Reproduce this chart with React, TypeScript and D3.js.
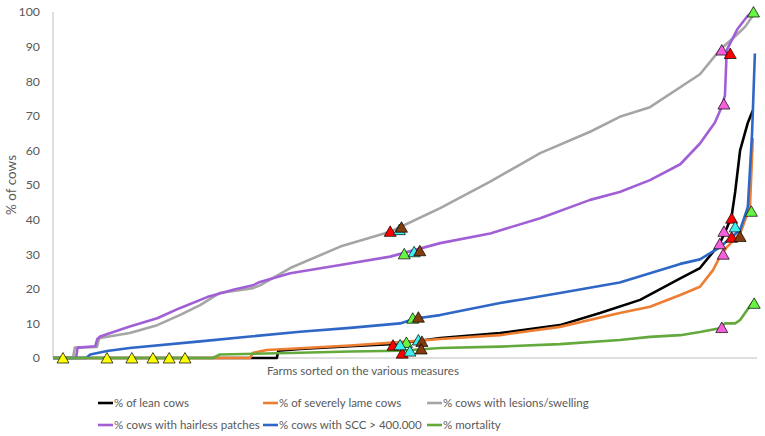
import * as d3 from "d3";

type Pt = [number, number]; // [farm rank in % of farms, % of cows]

// sorted curves
const leanCows: Pt[] = [
  [0, 0], [31.8, 0], [32.0, 2.1], [35.1, 2.6], [42.2, 3.4], [47.9, 4.0], [52.1, 5.0],
  [55.0, 5.8], [63.5, 7.2], [72.0, 9.5], [77.7, 13], [83.4, 16.8], [89.1, 23],
  [91.9, 26], [94.7, 33], [95.7, 37.5], [96.4, 41], [96.9, 48], [97.6, 60],
  [98.7, 68], [99.4, 71.5],
];
const lameCows: Pt[] = [
  [0, 0], [28.0, 0], [28.4, 1.5], [30.4, 2.3], [35.1, 2.8], [42.2, 3.6], [49.3, 4.6],
  [55.0, 5.5], [63.5, 6.6], [72.0, 9.0], [80.5, 13], [84.8, 14.8], [89.1, 18.2],
  [91.9, 20.6], [93.75, 25.4], [94.7, 29.2], [95.7, 32], [97.6, 36], [99.0, 43.7],
  [99.4, 63.5],
];
const lesionCows: Pt[] = [
  [0, 0], [2.84, 0], [3.1, 3], [6.25, 3.2], [6.5, 5.3], [6.7, 5.8], [10.9, 7.2],
  [14.8, 9.5], [18.0, 12.4], [20.9, 15.3], [23.7, 18.8], [28.4, 20.2], [29.4, 21],
  [33.7, 26], [40.8, 32.2], [47.9, 36.5], [55.0, 43.3], [62.1, 51], [69.2, 59.2],
  [76.3, 65.4], [80.5, 69.7], [84.8, 72.5], [91.9, 82], [94.7, 89], [96.9, 93],
  [98.3, 95.7], [99.3, 98.6], [99.7, 100],
];
const hairlessCows: Pt[] = [
  [0, 0], [3.27, 0], [3.5, 3], [6.0, 3.4], [6.3, 5.5], [6.7, 6.2], [10.9, 9.1],
  [14.8, 11.5], [18.0, 14.4], [21.9, 17.6], [25.6, 19.7], [28.4, 21], [29.4, 22],
  [33.7, 24.5], [40.8, 26.9], [47.9, 29.3], [55.0, 33.2], [62.1, 36], [69.2, 40.4],
  [76.3, 45.7], [80.5, 48], [84.8, 51.4], [89.1, 56], [91.9, 62], [94.0, 68],
  [95.0, 72.6], [95.45, 76], [95.7, 89], [97.2, 95], [98.6, 98.7], [99.3, 100],
];
const sccCows: Pt[] = [
  [0, 0], [4.69, 0], [5.3, 1], [7.67, 2], [10.9, 2.9], [20.9, 4.8], [28.0, 6.2],
  [35.1, 7.6], [42.2, 8.7], [49.3, 10], [51.5, 11.4], [55.0, 12.4], [56.4, 13],
  [63.5, 15.9], [66.8, 17], [72.0, 18.8], [80.5, 21.8], [89.1, 27.2], [91.9, 28.5],
  [94.7, 32], [97.6, 37], [98.7, 43.7], [99.3, 65], [99.7, 88],
];
const mortality: Pt[] = [
  [0, 0], [22.7, 0], [23.7, 1.0], [35.1, 1.5], [42.2, 1.9], [49.3, 2.1], [55.0, 2.9],
  [63.5, 3.3], [72.0, 4.0], [80.5, 5.2], [84.8, 6.1], [89.1, 6.6], [91.9, 7.5],
  [94.7, 8.6], [95.45, 10], [96.9, 10], [97.6, 11], [98.3, 13], [99.3, 15.9],
];

const seriesNames = [
  "% of lean cows",
  "% of severely lame cows",
  "% cows with lesions/swelling",
  "% cows with hairless patches",
  "% cows with SCC > 400.000",
  "% mortality",
];
const seriesData = [leanCows, lameCows, lesionCows, hairlessCows, sccCows, mortality];
const seriesColors = ["#000000", "#ed7d31", "#a5a5a5", "#a15fd6", "#2f67c6", "#63a93c"];

// highlighted farms (triangles), grouped by marker colour
const yellowFarms: Pt[] = [[1.42, 0], [7.67, 0], [11.2, 0], [14.2, 0], [16.5, 0], [18.75, 0]];
const pinkFarms: Pt[] = [[95.0, 89], [95.3, 73.4], [95.3, 36.6], [94.7, 33], [95.2, 30], [95.0, 8.8]];
const greenFarms: Pt[] = [[49.9, 30.1], [51.1, 11.5], [50.2, 4.5], [99.5, 100], [99.2, 42.4], [99.6, 15.8]];
const redFarms: Pt[] = [[47.9, 36.6], [48.3, 3.7], [49.6, 1.4], [96.2, 88], [96.4, 40.4], [96.4, 34.9]];
const cyanFarms: Pt[] = [[49.2, 37.1], [51.3, 30.7], [49.3, 3.8], [51.9, 5.2], [50.7, 2.0], [96.9, 37.9]];
const brownFarms: Pt[] = [[49.5, 37.8], [52.1, 31], [51.9, 11.8], [52.4, 4.8], [52.3, 2.6], [97.6, 35.1]];

const markerGroups = [yellowFarms, pinkFarms, greenFarms, redFarms, cyanFarms, brownFarms];
const markerColors = ["#ffff00", "#f55fdc", "#66f542", "#ff0000", "#3ff0f0", "#843c0c"];

const yTicks = [0, 10, 20, 30, 40, 50, 60, 70, 80, 90, 100];

const W = 765;
const H = 436;
const plot = { left: 53, right: 757, top: 12, bottom: 358 };
const font = "Lato, 'Open Sans', sans-serif";
const textColor = "#595959";

function trianglePath(): string {
  const p = d3.path();
  p.moveTo(0, -5.5);
  p.lineTo(6, 5);
  p.lineTo(-6, 5);
  p.closePath();
  return p.toString();
}

export default function App() {
  const x = d3.scaleLinear().domain([0, 100]).range([plot.left, plot.right]);
  const y = d3.scaleLinear().domain([0, 100]).range([plot.bottom, plot.top]);
  const line = d3
    .line<Pt>()
    .x((d) => x(d[0]))
    .y((d) => y(d[1]));
  const tri = trianglePath();

  // legend slots: 3 columns, 2 rows
  const legendX = [98, 263, 427];
  const legendY = [403, 425];

  return (
    <svg
      width={W}
      height={H}
      style={{ position: "absolute", left: 0, top: 0, background: "#fff" }}
      fontFamily={font}
    >
      {/* axes */}
      <line x1={plot.left} x2={plot.left} y1={plot.top} y2={plot.bottom} stroke="#bfbfbf" />
      <line x1={plot.left} x2={plot.right} y1={plot.bottom} y2={plot.bottom} stroke="#bfbfbf" />
      {yTicks.map((t) => (
        <text
          key={t}
          x={40}
          y={y(t)}
          dy="0.35em"
          textAnchor="end"
          fontSize={12.3}
          fill={textColor}
        >
          {t}
        </text>
      ))}
      <text
        transform={`translate(16,${(plot.top + plot.bottom) / 2}) rotate(-90)`}
        textAnchor="middle"
        fontSize={13.5}
        fill={textColor}
      >
        % of cows
      </text>
      <text x={363} y={375} textAnchor="middle" fontSize={11.6} fill={textColor}>
        Farms sorted on the various measures
      </text>

      {/* curves */}
      <g fill="none" strokeWidth={2.6} strokeLinejoin="round">
        {seriesData.map((s, i) => (
          <path key={seriesNames[i]} d={line(s) ?? ""} stroke={seriesColors[i]} />
        ))}
      </g>

      {/* highlighted farms */}
      <g stroke="#000" strokeWidth={0.7}>
        {markerGroups.map((g, gi) =>
          g.map((d, i) => (
            <path
              key={`${gi}-${i}`}
              d={tri}
              transform={`translate(${x(d[0])},${y(d[1])})`}
              fill={markerColors[gi]}
            />
          )),
        )}
      </g>

      {/* legend */}
      {seriesNames.map((name, i) => {
        const lx = legendX[i % 3];
        const ly = legendY[Math.floor(i / 3)];
        return (
          <g key={name}>
            <line x1={lx} x2={lx + 15} y1={ly} y2={ly} stroke={seriesColors[i]} strokeWidth={2.6} />
            <text x={lx + 16} y={ly} dy="0.35em" fontSize={11.5} fill={textColor}>
              {name}
            </text>
          </g>
        );
      })}
    </svg>
  );
}
